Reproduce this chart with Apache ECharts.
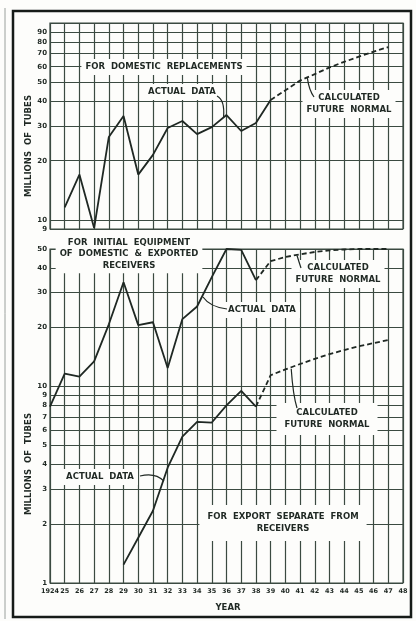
<!DOCTYPE html>
<html>
<head>
<meta charset="utf-8">
<script src="https://cdn.jsdelivr.net/npm/echarts@6/dist/echarts.min.js"></script>
<style>
html,body{margin:0;padding:0;background:#fdfdfb;}
#c{width:416px;height:621px;}
</style>
</head>
<body>
<div id="c"></div>
<script>
// ---- data ----
const topActualYears = [1925,1926,1927,1928,1929,1930,1931,1932,1933,1934,1935,1936,1937,1938,1939];
const topActual      = [11.6,17,9.1,26.4,33.7,17,21.4,29.3,31.8,27.3,29.6,34.1,28.3,31.1,40.7];
const topFutureYears = [1939,1940,1941,1942,1943,1944,1945,1946,1947];
const topFuture      = [40.7,45.5,51,55,59.5,63.5,67.5,71.5,75.5];

const midActualYears = [1924,1925,1926,1927,1928,1929,1930,1931,1932,1933,1934,1935,1936,1937,1938];
const midActual      = [7.9,11.6,11.2,13.4,20.7,33.9,20.5,21.2,12.4,22.0,25.5,36,50,49.5,34.7];
const midFutureYears = [1938,1939,1940,1941,1942,1943,1944,1945,1946,1947];
const midFuture      = [34.7,43.4,45.5,47,48.3,49.2,49.7,50,50,50];

const expActualYears = [1929,1930,1931,1932,1933,1934,1935,1936,1937,1938];
const expActual      = [1.24,1.7,2.33,3.86,5.56,6.6,6.55,8.0,9.5,7.9];
const expFutureYears = [1938,1939,1940,1941,1942,1943,1944,1945,1946,1947];
const expFuture      = [7.9,11.4,12.2,13.0,13.8,14.6,15.3,16.0,16.6,17.2];

const topTicks = [9,10,20,30,40,50,60,70,80,90,100];
const topTickLabels = ['9','10','20','30','40','50','60','70','80','90',''];
const lowTicks = [1,2,3,4,5,6,7,8,9,10,20,30,40,50];
const lowTickLabels = ['1','2','3','4','5','6','7','8','9','10','20','30','40','50'];
const yearMin = 1924, yearMax = 1948;

// ---- styling ----
const INK = '#1f2823';
const GRIDC = '#3b4a41';
const FONT = 'DejaVu Sans';

function zip(xs, ys){ return xs.map((x,i)=>[x, ys[i]]); }
function gridLines(ticks, labels){
  return ticks.map((v,i)=>({yAxis: v, label:{formatter: labels[i]}}));
}
function markLineFor(ticks, labels){
  return {
    silent:true, symbol:'none', z:1,
    lineStyle:{color:GRIDC, width:1.2, type:'solid'},
    label:{show:true, position:'start', distance:3, color:INK, fontSize:7, fontWeight:'bold', fontFamily:FONT},
    emphasis:{disabled:true},
    data: gridLines(ticks, labels)
  };
}

const chart = echarts.init(document.getElementById('c'), null, {renderer:'canvas'});

const xAxisBase = (gi, showLabels) => ({
  type:'value', gridIndex:gi, min:yearMin, max:yearMax, interval:1,
  axisLine:{show:false}, axisTick:{show:false},
  splitLine:{show:true, lineStyle:{color:GRIDC, width:1.2}},
  axisLabel:{show:showLabels, margin:5, fontSize:6.5, fontWeight:'bold', color:INK, fontFamily:FONT,
    formatter:v => v===1924 ? '1924' : String(v).slice(2)}
});
const yAxisBase = (gi, mn, mx) => ({
  type:'log', logBase:10, gridIndex:gi, min:mn, max:mx,
  axisLine:{show:false}, axisTick:{show:false}, axisLabel:{show:false}, splitLine:{show:false}
});

const solid = {color:INK, width:1.8, type:'solid'};
const dashed = {color:INK, width:1.8, type:[5,3]};

chart.setOption({
  animation:false,
  backgroundColor:'#fdfdfb',
  grid:[
    {left:50, width:353, top:23, height:206, show:true, borderColor:GRIDC, borderWidth:1.2},
    {left:50, width:353, top:249, height:334, show:true, borderColor:GRIDC, borderWidth:1.2}
  ],
  xAxis:[xAxisBase(0,false), xAxisBase(1,true)],
  yAxis:[yAxisBase(0,9,100), yAxisBase(1,1,50)],
  series:[
    {type:'line', xAxisIndex:0, yAxisIndex:0, z:3, clip:false, symbol:'none', lineStyle:solid,
     data:zip(topActualYears, topActual), markLine:markLineFor(topTicks, topTickLabels)},
    {type:'line', xAxisIndex:0, yAxisIndex:0, z:3, clip:false, symbol:'none', lineStyle:dashed,
     data:zip(topFutureYears, topFuture)},
    {type:'line', xAxisIndex:1, yAxisIndex:1, z:3, clip:false, symbol:'none', lineStyle:solid,
     data:zip(midActualYears, midActual), markLine:markLineFor(lowTicks, lowTickLabels)},
    {type:'line', xAxisIndex:1, yAxisIndex:1, z:3, clip:false, symbol:'none', lineStyle:dashed,
     data:zip(midFutureYears, midFuture)},
    {type:'line', xAxisIndex:1, yAxisIndex:1, z:3, clip:false, symbol:'none', lineStyle:solid,
     data:zip(expActualYears, expActual)},
    {type:'line', xAxisIndex:1, yAxisIndex:1, z:3, clip:false, symbol:'none', lineStyle:dashed,
     data:zip(expFutureYears, expFuture)}
  ]
});

// ---- annotations ----
function px(gi, pt){ return chart.convertToPixel({xAxisIndex:gi, yAxisIndex:gi}, pt); }
function label(text, x, y, opts){
  opts = opts || {};
  return {type:'text', x:x, y:y, z:50, rotation:opts.rotation||0,
    style:{text:text, fill:INK, font:'bold '+(opts.size||8.5)+'px "'+FONT+'"', align:'center', verticalAlign:'middle',
      lineHeight:opts.lh||12, backgroundColor: opts.nobg ? null : '#fdfdfb', padding: opts.pad || [2,4]}};
}
function leader(x1,y1,cx,cy,t){
  return {type:'bezierCurve', z:51, shape:{x1:x1,y1:y1,x2:t[0],y2:t[1],cpx1:cx,cpy1:cy},
    style:{stroke:INK, lineWidth:1.2, fill:null}};
}
const tA = px(0,[1935.8, 33.2]);
const tC = px(0,[1941.5, 52.5]);
const mA = px(1,[1934.4, 28.5]);
const mC = px(1,[1940.8, 46.2]);
const bC = px(1,[1940.4, 12.3]);
const bA = px(1,[1931.75, 3.3]);

chart.setOption({
  graphic:[
    {type:'rect', z:60, shape:{x:13, y:11, width:398, height:606}, style:{stroke:'#161b18', lineWidth:2.5, fill:null}},
    {type:'line', z:60, shape:{x1:5, y1:8, x2:5, y2:619}, style:{stroke:'#9aa09c', lineWidth:1}},
    label('FOR  DOMESTIC  REPLACEMENTS', 164, 67),
    label('ACTUAL  DATA', 182, 92),
    label('CALCULATED\nFUTURE  NORMAL', 349, 104),
    label('FOR  INITIAL  EQUIPMENT\nOF  DOMESTIC  &  EXPORTED\nRECEIVERS', 129, 254, {lh:11.5}),
    label('ACTUAL  DATA', 262, 310),
    label('CALCULATED\nFUTURE  NORMAL', 338, 274),
    label('CALCULATED\nFUTURE  NORMAL', 327, 419, {pad:[4,8]}),
    label('ACTUAL  DATA', 100, 477),
    label('FOR  EXPORT  SEPARATE  FROM\nRECEIVERS', 283, 523, {pad:[6,8]}),
    label('YEAR', 228, 608, {nobg:true}),
    label('MILLIONS  OF  TUBES', 29, 146, {rotation:Math.PI/2, nobg:true}),
    label('MILLIONS  OF  TUBES', 29, 464, {rotation:Math.PI/2, nobg:true}),
    leader(217, 96, 225, 100, tA),
    leader(314, 97, 309, 90, tC),
    leader(227, 309, 210, 307, mA),
    leader(301, 268, 299, 262, mC),
    leader(297, 408, 293, 395, bC),
    leader(140, 476, 155, 472, bA)
  ]
});
</script>
</body>
</html>
